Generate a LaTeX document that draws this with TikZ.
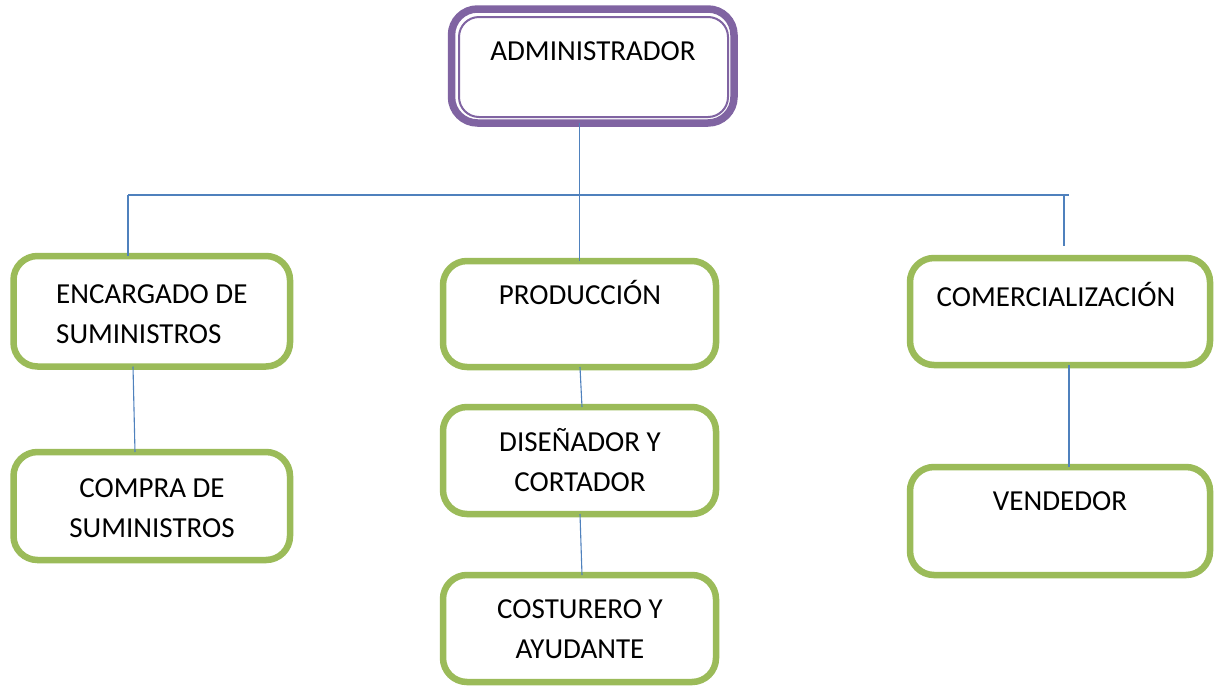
\documentclass[tikz,border=0pt]{standalone}
\usepackage{fontspec}
\setmainfont{Carlito}
\definecolor{boxgreen}{RGB}{155,187,89}
\definecolor{boxpurple}{RGB}{128,100,162}
\definecolor{linkblue}{RGB}{79,129,189}
\begin{document}
\begin{tikzpicture}[x=1pt,y=-1pt,
  gbox/.style={draw=boxgreen,line width=6.5pt,rounded corners=24pt,fill=white,inner sep=0pt,outer sep=0pt},
  pbox/.style={draw=boxpurple,line width=7.5pt,rounded corners=26pt,fill=white,inner sep=0pt,outer sep=0pt},
  lbl/.style={font=\fontsize{29}{40}\selectfont,inner sep=0pt,anchor=base},
  link/.style={draw=linkblue,line width=1.1pt}]
\useasboundingbox[fill=white] (0,0) rectangle (1218,686);
% boxes
\node[pbox,minimum width=282.5pt,minimum height=114pt] (admin) at (592.75,66) {};
\draw[boxpurple,line width=2pt,rounded corners=20pt] ([shift={(7.5,8)}]admin.north west) rectangle ([shift={(-6,-6)}]admin.south east);
\node[gbox,minimum width=276.5pt,minimum height=110.5pt] (enc) at (151.75,311.25) {};
\node[gbox,minimum width=276.5pt,minimum height=108pt] (compra) at (151.75,506) {};
\node[gbox,minimum width=273pt,minimum height=106pt] (prod) at (579.5,314) {};
\node[gbox,minimum width=273pt,minimum height=107pt] (dis) at (579.5,460.5) {};
\node[gbox,minimum width=273pt,minimum height=107pt] (cost) at (579.5,628.5) {};
\node[gbox,minimum width=300pt,minimum height=107pt] (com) at (1060,311.5) {};
\node[gbox,minimum width=300pt,minimum height=108pt] (vend) at (1060,521) {};
% labels (multi-line labels are placed by the baseline of their last line)
\node[lbl] (tadmin) at (593,60) {ADMINISTRADOR};
\node[lbl,anchor=base west,align=left] (tenc) at (56,343) {ENCARGADO DE\\SUMINISTROS};
\node[lbl,align=center] (tcompra) at (152,537) {COMPRA DE\\SUMINISTROS};
\node[lbl] (tprod) at (580,304) {PRODUCCIÓN};
\node[lbl,align=center] (tdis) at (580,491) {DISEÑADOR Y\\CORTADOR};
\node[lbl,align=center] (tcost) at (580,658) {COSTURERO Y\\AYUDANTE};
\node[lbl] (tcom) at (1056,306) {COMERCIALIZACIÓN};
\node[lbl] (tvend) at (1060,510) {VENDEDOR};
% connectors
\coordinate (busL) at (128,195);
\coordinate (busR) at (1069,195);
\coordinate (comdrop) at (1064,195);
\coordinate (comend) at (1064,246);
\draw[link] (prod.north |- admin.south) -- (prod.north);
\draw[link] (busL) -- (busR);
\draw[link] (busL) -- (busL |- enc.north);
\draw[link] (comdrop) -- (comend);
\draw[link] ([xshift=-18.75pt]enc.south) -- ([xshift=-16.75pt]compra.north);
\draw[link] ([xshift=0.5pt]prod.south) -- ([xshift=2.5pt]dis.north);
\draw[link] ([xshift=0.5pt]dis.south) -- ([xshift=2.5pt]cost.north);
\draw[link] ([xshift=9pt]com.south) -- ([xshift=9pt]vend.north);
\end{tikzpicture}
\end{document}
